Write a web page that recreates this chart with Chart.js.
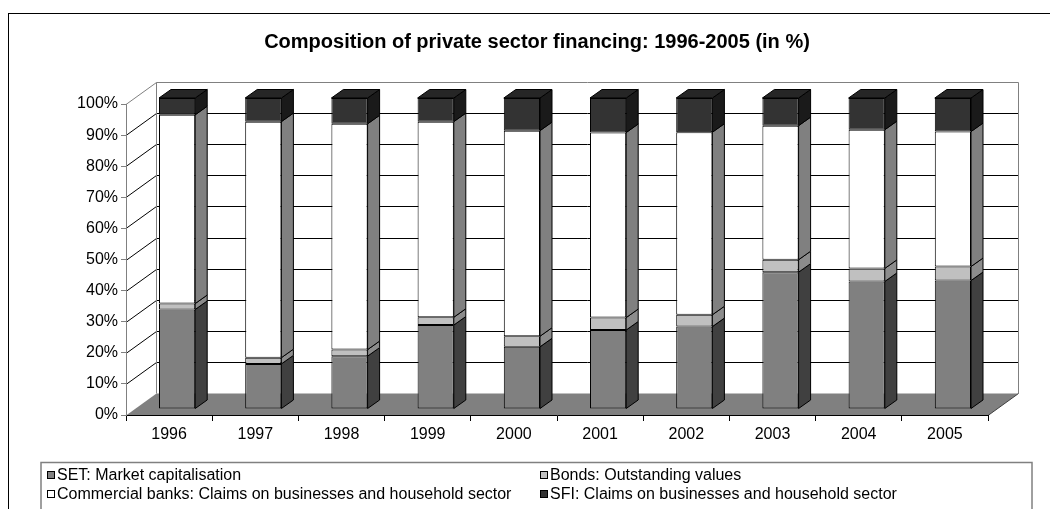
<!DOCTYPE html>
<html>
<head>
<meta charset="utf-8">
<script src="https://cdn.jsdelivr.net/npm/chart.js@4.4.0/dist/chart.umd.min.js"></script>
<style>
    body { margin: 0; background: #fff; }
    #wrap { width: 1050px; height: 509px; position: relative; }
</style>
</head>
<body>
<div id="wrap"><canvas id="finChart" width="1050" height="509"></canvas></div>
<script>
// Years and shares of each financing source (in %)
const years = ['1996', '1997', '1998', '1999', '2000', '2001', '2002', '2003', '2004', '2005'];
const setMarketCap = [32, 14.5, 17, 27, 20, 25.4, 26.5, 44, 41, 41.3];
const bondsOutstanding = [1.9, 2, 2.1, 2.5, 3.4, 4, 3.8, 4, 4.2, 4.5];
const commercialBanks = [60.7, 75.9, 72.6, 62.9, 66.1, 59.5, 58.7, 43.1, 44.6, 43.4];
const sfiClaims = [5.4, 7.6, 8.3, 7.6, 10.5, 11.1, 11, 8.9, 10.2, 10.8];

const seriesLabels = [
    'SET: Market capitalisation',
    'Bonds: Outstanding values',
    'Commercial banks: Claims on businesses and household sector',
    'SFI: Claims on businesses and household sector'
];
const yTicks = [0, 10, 20, 30, 40, 50, 60, 70, 80, 90, 100];

// Shading for the fake 3D boxes
const frontColors = ['#808080', '#c0c0c0', '#ffffff', '#333333'];
const sideColors = ['#404040', '#8c8c8c', '#808080', '#1a1a1a'];
const topColors = ['#6a6a6a', '#a8a8a8', '#e6e6e6', '#262626'];

// Depth of the plot box (front plane -> back wall) and of the bars
const wallDepth = { x: 30, y: -22 };
const barShift = { x: 8, y: -6 };
const barDepth = { x: 12, y: -8.5 };

Chart.defaults.font.family = '"Liberation Sans", Arial, sans-serif';
Chart.defaults.color = '#000';

function poly(ctx, pts, fill, stroke) {
    ctx.beginPath();
    ctx.moveTo(pts[0][0], pts[0][1]);
    for (let i = 1; i < pts.length; i++) ctx.lineTo(pts[i][0], pts[i][1]);
    ctx.closePath();
    if (fill) { ctx.fillStyle = fill; ctx.fill(); }
    if (stroke) { ctx.strokeStyle = stroke; ctx.lineWidth = 1; ctx.stroke(); }
}

function line(ctx, x1, y1, x2, y2, color) {
    ctx.beginPath();
    ctx.moveTo(x1, y1);
    ctx.lineTo(x2, y2);
    ctx.strokeStyle = color;
    ctx.lineWidth = 1;
    ctx.stroke();
}

// Back wall, side wall gridlines and floor, drawn before the axes
const wallsPlugin = {
    id: 'walls',
    beforeDraw(chart) {
        const { ctx, chartArea: a, scales: { y } } = chart;
        const dx = wallDepth.x, dy = wallDepth.y;
        ctx.save();
        ctx.fillStyle = '#fff';
        ctx.fillRect(0, 0, chart.width, chart.height);

        // outer frame
        ctx.strokeStyle = '#000';
        ctx.lineWidth = 1;
        ctx.strokeRect(8.5, 13.5, 1200, 1200);

        const top = Math.round(y.getPixelForValue(100)) + 0.5;
        const bot = Math.round(y.getPixelForValue(0)) + 0.5;
        const bl = Math.round(a.left + dx) + 0.5;
        const br = Math.round(a.right + dx) + 0.5;

        // back wall gridlines
        yTicks.slice(1, -1).forEach(v => {
            const py = Math.round(y.getPixelForValue(v) + dy) + 0.5;
            line(ctx, bl, py, br, py, '#000');
            line(ctx, a.left, py - dy, bl, py, '#000');
        });
        // wall edges
        line(ctx, bl, top + dy, br, top + dy, '#808080');
        line(ctx, br, top + dy, br, bot + dy, '#808080');
        line(ctx, bl, top + dy, bl, bot + dy, '#808080');
        line(ctx, a.left, top, bl, top + dy, '#808080');

        // floor
        poly(ctx, [[a.left, bot], [a.right, bot], [br, bot + dy], [bl, bot + dy]], '#808080', null);
        line(ctx, a.right, bot, br, bot + dy, '#404040');
        ctx.restore();
    },
    beforeDatasetsDraw(chart) {
        chart.ctx.save();
        chart.ctx.translate(barShift.x, barShift.y);
    },
    afterDatasetsDraw(chart) {
        const ctx = chart.ctx;
        ctx.restore();
        const dx = barDepth.x, dy = barDepth.y;
        ctx.save();
        const last = chart.data.datasets.length - 1;
        chart.data.datasets.forEach((ds, di) => {
            const meta = chart.getDatasetMeta(di);
            meta.data.forEach(bar => {
                const p = bar.getProps(['x', 'y', 'base', 'width'], true);
                const l = p.x - p.width / 2 + barShift.x;
                const r = p.x + p.width / 2 + barShift.x;
                const t = Math.min(p.y, p.base) + barShift.y;
                const b = Math.max(p.y, p.base) + barShift.y;
                poly(ctx, [[r, t], [r + dx, t + dy], [r + dx, b + dy], [r, b]], sideColors[di], '#000');
                if (di === last) {
                    poly(ctx, [[l, t], [l + dx, t + dy], [r + dx, t + dy], [r, t]], topColors[di], '#000');
                }
            });
        });
        ctx.restore();
    },
    afterDraw(chart) {
        const ctx = chart.ctx;
        ctx.save();
        // title
        ctx.font = 'bold 20px "Liberation Sans", Arial, sans-serif';
        ctx.fillStyle = '#000';
        ctx.textAlign = 'center';
        ctx.textBaseline = 'middle';
        ctx.fillText('Composition of private sector financing: 1996-2005 (in %)', 537, 42);

        // legend box, two columns
        ctx.strokeStyle = '#808080';
        ctx.lineWidth = 1.5;
        ctx.strokeRect(41, 462.5, 991, 100);
        ctx.font = '16px "Liberation Sans", Arial, sans-serif';
        ctx.textAlign = 'left';
        const cols = [47, 540];
        const rows = [475, 494];
        chart.data.datasets.forEach((ds, i) => {
            const cx = cols[i % 2];
            const cy = rows[Math.floor(i / 2)];
            ctx.fillStyle = ds.backgroundColor;
            ctx.fillRect(cx + 0.5, cy - 3.5, 7, 7);
            ctx.strokeStyle = '#000';
            ctx.lineWidth = 1;
            ctx.strokeRect(cx + 0.5, cy - 3.5, 7, 7);
            ctx.fillStyle = '#000';
            ctx.fillText(ds.label, cx + 10, cy + 1);
        });
        ctx.restore();
    }
};

const seriesData = [setMarketCap, bondsOutstanding, commercialBanks, sfiClaims];

const chart = new Chart(document.getElementById('finChart'), {
    type: 'bar',
    data: {
        labels: years,
        datasets: seriesData.map((vals, i) => ({
            label: seriesLabels[i],
            data: vals,
            backgroundColor: frontColors[i],
            borderColor: '#000',
            borderWidth: 1,
            borderSkipped: false,
            categoryPercentage: 1,
            barPercentage: 0.42
        }))
    },
    options: {
        responsive: false,
        animation: false,
        layout: { padding: { top: 104, right: 62, left: 0, bottom: 0 } },
        plugins: {
            legend: { display: false },
            title: { display: false },
            tooltip: { enabled: false }
        },
        scales: {
            x: {
                stacked: true,
                grid: { offset: true, drawOnChartArea: false, tickLength: 6, color: '#000' },
                border: { color: '#000' },
                ticks: { font: { size: 16 }, padding: 4, color: '#000' },
                afterFit: s => { s.height = 94; }
            },
            y: {
                stacked: true,
                min: 0,
                max: 100,
                afterBuildTicks: s => { s.ticks = yTicks.map(v => ({ value: v })); },
                grid: { drawOnChartArea: false, tickLength: 5, color: '#808080' },
                border: { color: '#808080' },
                ticks: { font: { size: 16 }, padding: 3, color: '#000', callback: v => v + '%' },
                afterFit: s => { s.width = 126; }
            }
        }
    },
    plugins: [wallsPlugin]
});
</script>
</body>
</html>
